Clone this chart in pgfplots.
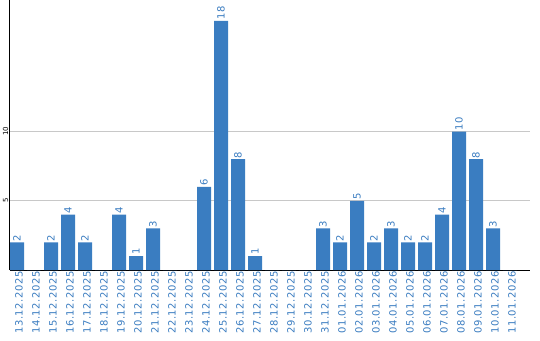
\documentclass[border=0pt]{standalone}
\usepackage{fontspec}
\setmainfont{DejaVu Sans}
\newfontfamily\lblfont{DejaVu Sans}[LetterSpace=6]
\usepackage{pgfplots}
\pgfplotsset{compat=1.18}
\definecolor{barblue}{HTML}{3A7DC1}
\definecolor{txtblue}{HTML}{3A7CC0}
\definecolor{gridgray}{HTML}{C8C8C8}
\begin{document}
\begin{tikzpicture}[x=1pt,y=1pt]
\begin{axis}[
  at={(0,0)}, anchor=south west,
  scale only axis, width=520pt, height=270pt,
  xmin=-0.412, xmax=30.176, ymin=0, ymax=19.5,
  axis x line=bottom, axis y line=left,
  axis line style={-, black, line width=1pt},
  ytick={5,10}, ymajorgrids, grid style={gridgray, line width=0.8pt},
  xtick={0,...,29},
  xticklabels={13.12.2025,14.12.2025,15.12.2025,16.12.2025,17.12.2025,18.12.2025,19.12.2025,20.12.2025,21.12.2025,22.12.2025,23.12.2025,24.12.2025,25.12.2025,26.12.2025,27.12.2025,28.12.2025,29.12.2025,30.12.2025,31.12.2025,01.01.2026,02.01.2026,03.01.2026,04.01.2026,05.01.2026,06.01.2026,07.01.2026,08.01.2026,09.01.2026,10.01.2026,11.01.2026},
  major tick length=0pt,
  xticklabel style={rotate=90, anchor=east, font=\lblfont\fontsize{10}{11}\selectfont, text=txtblue, inner sep=1pt, xshift=0pt, yshift=-2pt},
  yticklabel style={rotate=90, anchor=south, font=\fontsize{7}{8}\selectfont, text=black, inner sep=1.5pt},
  /pgf/number format/assume math mode=true,
  ybar, bar width=14pt,
  nodes near coords={\pgfmathfloatifflags{\pgfplotspointmeta}{0}{}{\pgfmathprintnumber{\pgfplotspointmeta}}},
  nodes near coords style={rotate=90, anchor=west, font=\lblfont\fontsize{10}{11}\selectfont, text=txtblue, inner sep=1pt},
  clip=false,
]
\addplot[fill=barblue, draw=none] coordinates {
(0,2) (1,0) (2,2) (3,4) (4,2) (5,0) (6,4) (7,1) (8,3) (9,0)
(10,0) (11,6) (12,18) (13,8) (14,1) (15,0) (16,0) (17,0) (18,3) (19,2)
(20,5) (21,2) (22,3) (23,2) (24,2) (25,4) (26,10) (27,8) (28,3) (29,0)
};
\end{axis}
\pgfresetboundingbox
\path (-10pt,-70pt) rectangle (530pt,270pt);
\end{tikzpicture}
\end{document}
